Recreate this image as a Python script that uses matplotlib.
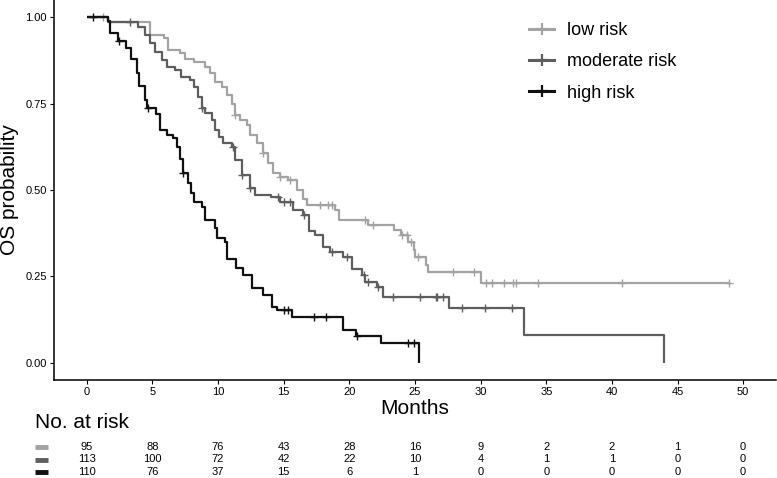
import numpy as np
import matplotlib
matplotlib.use("Agg")
import matplotlib.pyplot as plt
from matplotlib.lines import Line2D

plt.rcParams['font.family'] = ['Liberation Sans', 'DejaVu Sans']

# step times (months) and survival after each step
low_t = [1.6, 4.8, 5.9, 6.2, 7.1, 7.5, 8.2, 9.0, 9.4, 9.75, 10.3, 10.7, 11.05, 11.3, 11.7,
         12.2, 12.4, 13.0, 13.4, 13.8, 14.2, 14.7, 15.3, 16.0, 16.5, 16.8, 18.9, 19.2, 21.4,
         23.4, 23.9, 24.5, 24.9, 25.0, 25.8, 26.0, 30.0]
low_s = [0.985, 0.948, 0.94, 0.905, 0.896, 0.88, 0.87, 0.856, 0.838, 0.812, 0.798, 0.775, 0.75,
         0.717, 0.702, 0.688, 0.659, 0.636, 0.607, 0.578, 0.549, 0.538, 0.529, 0.50, 0.475,
         0.457, 0.442, 0.413, 0.399, 0.384, 0.37, 0.35, 0.327, 0.306, 0.283, 0.263, 0.231]
low_c = [1.2, 11.3, 13.4, 14.7, 15.5, 17.8, 18.4, 18.7, 21.2, 21.8, 24.0, 24.4, 24.7, 25.2,
         27.9, 29.5, 30.4, 30.9, 31.8, 32.5, 32.7, 34.4, 40.8, 48.9]

mod_t = [1.6, 3.9, 4.4, 4.8, 5.2, 5.7, 6.1, 6.7, 7.2, 7.85, 8.2, 8.5, 8.8, 9.0, 9.5, 9.75,
         10.1, 10.4, 11.05, 11.3, 11.8, 12.4, 12.8, 14.0, 14.7, 15.7, 16.5, 16.9, 17.4, 18.0,
         18.5, 19.5, 20.2, 21.0, 21.2, 22.1, 22.6, 27.6, 33.3, 44.0]
mod_s = [0.985, 0.971, 0.948, 0.925, 0.899, 0.876, 0.855, 0.847, 0.827, 0.818, 0.798, 0.769,
         0.737, 0.722, 0.702, 0.673, 0.653, 0.636, 0.624, 0.587, 0.543, 0.506, 0.486, 0.48,
         0.465, 0.442, 0.428, 0.38, 0.37, 0.335, 0.32, 0.306, 0.27, 0.254, 0.234, 0.22, 0.19,
         0.159, 0.081, 0.0]
mod_c = [3.3, 8.8, 11.1, 11.85, 12.45, 14.6, 15.0, 15.5, 16.55, 18.7, 19.8, 21.15, 21.4, 22.15,
         23.3, 25.4, 26.6, 26.7, 27.1, 28.6, 30.3, 32.4]

high_t = [1.6, 1.8, 2.4, 3.0, 3.4, 3.8, 4.0, 4.4, 4.6, 5.3, 5.6, 6.1, 6.6, 6.9, 7.1, 7.3, 7.7,
          7.9, 8.2, 8.8, 9.0, 9.8, 9.9, 10.5, 10.7, 11.4, 11.9, 12.6, 13.4, 14.1, 14.5, 15.6,
          19.5, 20.5, 22.4, 25.3]
high_s = [0.99, 0.955, 0.93, 0.91, 0.88, 0.84, 0.80, 0.76, 0.737, 0.72, 0.673, 0.659, 0.65,
          0.624, 0.59, 0.55, 0.52, 0.49, 0.465, 0.45, 0.413, 0.39, 0.36, 0.35, 0.30, 0.274,
          0.254, 0.216, 0.197, 0.162, 0.153, 0.133, 0.095, 0.078, 0.058, 0.0]
high_c = [0.5, 2.45, 4.65, 7.35, 15.0, 15.3, 17.3, 18.2, 20.55, 24.5, 24.9]

groups = ["low risk", "moderate risk", "high risk"]
colors = ["#a3a3a3", "#5e5e5e", "#111111"]

risk_times = [0, 5, 10, 15, 20, 25, 30, 35, 40, 45, 50]
risk_low = [95, 88, 76, 43, 28, 16, 9, 2, 2, 1, 0]
risk_mod = [113, 100, 72, 42, 22, 10, 4, 1, 1, 0, 0]
risk_high = [110, 76, 37, 15, 6, 1, 0, 0, 0, 0, 0]

W, H = 777, 478
fig = plt.figure(figsize=(W / 100, H / 100), dpi=100)
ax = fig.add_axes([54 / W, 1 - 380 / H, 722 / W, 380 / H])

curves = [(low_t, low_s, low_c), (mod_t, mod_s, mod_c), (high_t, high_s, high_c)]
for (t, s, c), col, lab in zip(curves, colors, groups):
    t = np.array(t)
    s = np.array(s)
    xs = np.r_[0, t]
    ys = np.r_[1.0, s]
    if s[-1] > 0:
        xs = np.r_[xs, max(c)]
        ys = np.r_[ys, s[-1]]
    ax.step(xs, ys, where='post', color=col, lw=1.6, solid_capstyle='butt')
    c = np.array(c)
    idx = np.searchsorted(t, c, side='right')
    cs = np.r_[1.0, s][idx]
    ax.plot(c, cs, ls='none', marker='+', ms=6, mew=1.0, color=col)

ax.set_xlim(-2.5, 52.5)
ax.set_ylim(-0.05, 1.05)
ax.set_xticks(risk_times)
ax.set_yticks([0, 0.25, 0.5, 0.75, 1.0])
ax.set_yticklabels(["0.00", "0.25", "0.50", "0.75", "1.00"])
for side in ['top', 'right']:
    ax.spines[side].set_visible(False)
for side in ['left', 'bottom']:
    ax.spines[side].set_linewidth(1.1)
ax.tick_params(direction='out', length=3, width=0.8, pad=2, labelsize=8, colors='black')
ax.set_ylabel("OS probability", fontsize=15, labelpad=5)

fig.text(415 / W, 1 - 409 / H, "Months", fontsize=15, ha='center', va='center')
fig.text(35 / W, 1 - 423 / H, "No. at risk", fontsize=15, ha='left', va='center')

handles = [Line2D([], [], color=col, lw=2.2, marker='+', ms=9, mew=1.6) for col in colors]
ax.legend(handles, groups, loc='upper left', bbox_to_anchor=(529 / W, 1 - 22 / H),
          bbox_transform=fig.transFigure, frameon=False, fontsize=13, handlelength=1.4,
          handletextpad=0.7, labelspacing=0.79, borderpad=0, borderaxespad=0)

# risk table
tab = fig.add_axes([54 / W, 1 - 478.25 / H, 722 / W, 37.5 / H])
tab.set_xlim(-2.5, 52.5)
tab.set_ylim(3.5, 0.5)
tab.axis('off')
for row, (vals, col) in enumerate(zip([risk_low, risk_mod, risk_high], colors), start=1):
    for x, v in zip(risk_times, vals):
        tab.text(x, row, str(v), ha='center', va='center', fontsize=8)
    tab.plot([-3.95, -2.95], [row, row], color=col, lw=3.5, solid_capstyle='butt', clip_on=False)

fig.savefig("out.png", dpi=100)
